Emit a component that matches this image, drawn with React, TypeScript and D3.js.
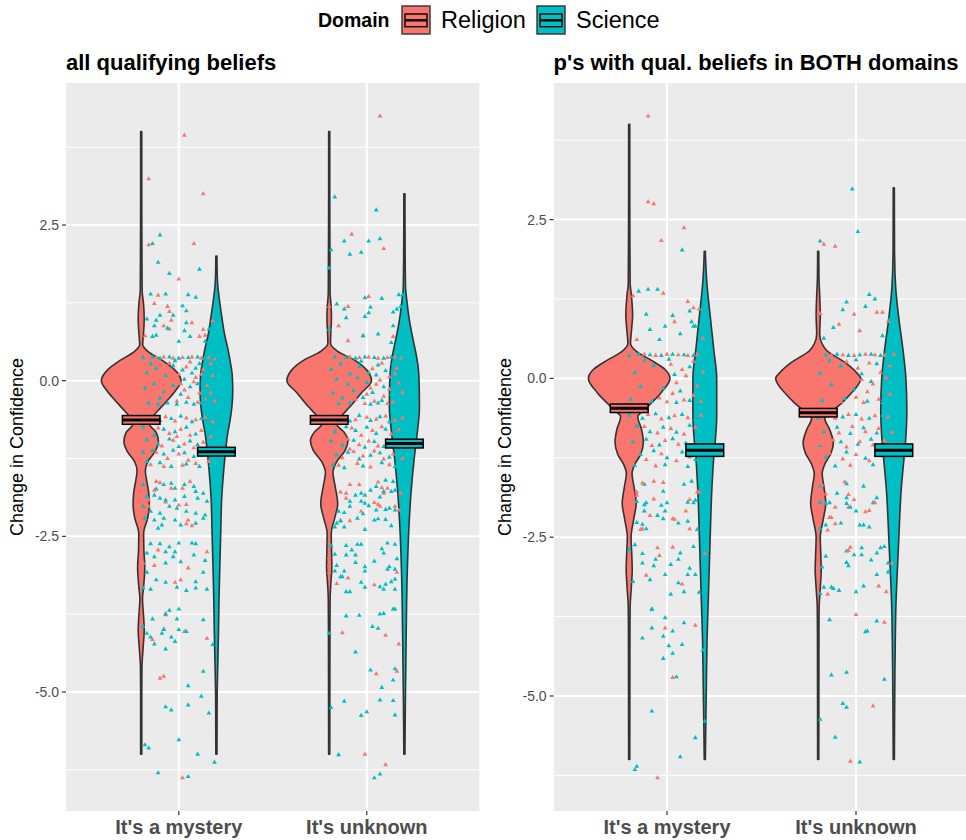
import { useEffect, useRef } from "react"
import * as d3 from "d3"

type Pair = [number, number]

const WIDTH = 966
const HEIGHT = 840
const FONT = "'Liberation Sans', Arial, Helvetica, sans-serif"

const categories = ["It's a mystery", "It's unknown"]
const domainNames = ["Religion", "Science"]
const domainColors = ["#F8766D", "#00BFC4"]
const panelTitles = ["all qualifying beliefs", "p's with qual. beliefs in BOTH domains"]
const yMajorBreaks = [-5, -2.5, 0, 2.5]
const yMinorBreaks = [-6.25, -3.75, -1.25, 1.25, 3.75]

// crossbar: mean and standard error, [category][domain]
const allMeans = [[-0.63, -1.14], [-0.63, -1.01]]
const allSe = [[0.07, 0.07], [0.07, 0.07]]
const bothMeans = [[-0.47, -1.13], [-0.54, -1.13]]
const bothSe = [[0.067, 0.098], [0.067, 0.098]]

// violin outlines: [value, half width in category steps]
const allMysteryRelViolin: Pair[] = [[4.0,0.003],[3.0,0.003],[2.0,0.004],[1.45,0.005],[1.25,0.012],[1.0,0.016],[0.75,0.012],[0.58,0.008],[0.47,0.035],[0.33,0.11],[0.17,0.18],[0.0,0.212],[-0.17,0.18],[-0.33,0.135],[-0.48,0.09],[-0.6,0.055],[-0.7,0.045],[-0.83,0.08],[-0.98,0.092],[-1.13,0.075],[-1.3,0.035],[-1.45,0.022],[-1.62,0.03],[-1.8,0.04],[-2.0,0.043],[-2.2,0.035],[-2.45,0.013],[-2.7,0.014],[-3.0,0.019],[-3.3,0.013],[-3.5,0.007],[-3.8,0.013],[-4.0,0.016],[-4.3,0.01],[-4.6,0.004],[-5.0,0.003],[-6.0,0.003]]
const allMysterySciViolin: Pair[] = [[2.0,0.003],[1.75,0.004],[1.5,0.008],[1.3,0.016],[1.0,0.03],[0.75,0.043],[0.5,0.062],[0.3,0.074],[0.1,0.084],[-0.15,0.087],[-0.4,0.083],[-0.65,0.072],[-0.85,0.06],[-1.1,0.05],[-1.4,0.04],[-1.9,0.028],[-2.45,0.023],[-3.0,0.018],[-3.5,0.014],[-4.05,0.011],[-4.6,0.007],[-5.1,0.004],[-6.0,0.003]]
const allUnknownRelViolin: Pair[] = [[4.0,0.003],[3.0,0.003],[2.0,0.004],[1.4,0.005],[1.2,0.01],[1.0,0.012],[0.8,0.009],[0.6,0.007],[0.47,0.045],[0.33,0.135],[0.17,0.2],[0.0,0.225],[-0.2,0.17],[-0.42,0.11],[-0.55,0.07],[-0.7,0.04],[-0.83,0.08],[-0.96,0.1],[-1.12,0.085],[-1.3,0.04],[-1.48,0.02],[-1.7,0.032],[-1.98,0.045],[-2.2,0.03],[-2.45,0.011],[-2.8,0.013],[-3.0,0.014],[-3.2,0.01],[-3.5,0.005],[-4.0,0.004],[-6.0,0.003]]
const allUnknownSciViolin: Pair[] = [[3.0,0.003],[2.0,0.004],[1.5,0.006],[1.29,0.013],[1.0,0.025],[0.75,0.04],[0.43,0.062],[0.2,0.074],[0.0,0.078],[-0.43,0.08],[-0.85,0.068],[-1.23,0.053],[-1.77,0.036],[-2.3,0.025],[-3.1,0.015],[-4.2,0.009],[-5.2,0.005],[-6.0,0.003]]
const bothMysteryRelViolin: Pair[] = [[4.0,0.003],[3.0,0.003],[2.0,0.004],[1.5,0.005],[1.3,0.012],[1.0,0.018],[0.75,0.012],[0.55,0.007],[0.42,0.04],[0.28,0.12],[0.14,0.19],[0.0,0.216],[-0.22,0.17],[-0.38,0.12],[-0.5,0.08],[-0.6,0.045],[-0.8,0.065],[-1.0,0.075],[-1.2,0.06],[-1.35,0.03],[-1.5,0.015],[-1.7,0.025],[-1.97,0.037],[-2.2,0.025],[-2.5,0.01],[-2.8,0.014],[-3.0,0.016],[-3.3,0.011],[-3.6,0.005],[-4.0,0.004],[-6.0,0.003]]
const bothMysterySciViolin: Pair[] = [[2.0,0.003],[1.75,0.006],[1.5,0.011],[1.0,0.028],[0.44,0.048],[0.0,0.063],[-0.6,0.063],[-1.0,0.055],[-1.3,0.046],[-1.77,0.037],[-2.55,0.028],[-3.34,0.02],[-4.1,0.012],[-4.9,0.008],[-5.5,0.005],[-6.0,0.003]]
const bothUnknownRelViolin: Pair[] = [[2.0,0.003],[1.6,0.004],[1.3,0.008],[1.0,0.011],[0.7,0.008],[0.55,0.02],[0.44,0.045],[0.24,0.147],[0.1,0.2],[0.0,0.225],[-0.25,0.17],[-0.4,0.12],[-0.5,0.08],[-0.63,0.035],[-0.8,0.06],[-1.02,0.08],[-1.18,0.067],[-1.35,0.035],[-1.5,0.021],[-1.7,0.03],[-1.97,0.04],[-2.2,0.028],[-2.5,0.011],[-2.8,0.014],[-3.0,0.016],[-3.3,0.011],[-3.6,0.005],[-4.0,0.004],[-6.0,0.003]]
const bothUnknownSciViolin: Pair[] = [[3.0,0.003],[2.0,0.004],[1.43,0.01],[0.96,0.026],[0.44,0.049],[0.0,0.064],[-0.5,0.069],[-1.0,0.062],[-1.29,0.053],[-1.76,0.039],[-2.55,0.026],[-3.07,0.018],[-3.6,0.011],[-4.1,0.008],[-5.0,0.005],[-6.0,0.003]]

// jittered points: [x offset in category steps, value]
const allMysteryRelPts: Pair[] = [
  [0.03,3.94],[-0.16,3.24],[0.13,3.0],[-0.16,2.18],[0.08,2.2],[0.0,1.63],
  [-0.11,1.37],[-0.13,1.24],[-0.06,1.19],[-0.05,1.11],[-0.04,0.97],[0.07,0.93],[-0.08,0.88],[-0.05,0.83],[0.13,0.82],[0.18,0.96],[-0.18,0.72],[0.11,0.71],[0.14,0.73],
  [-0.17,0.36],[-0.12,0.37],[-0.08,0.38],[-0.03,0.36],[0.02,0.37],[0.07,0.38],[0.12,0.36],[0.16,0.37],[0.19,0.35],
  [-0.18,0.2],[-0.14,0.25],[-0.1,0.15],[-0.05,0.28],[0.0,0.1],[0.04,0.22],[0.09,0.05],[0.13,0.18],[0.17,0.27],
  [-0.16,-0.05],[-0.11,0.02],[-0.06,-0.1],[-0.02,0.05],[0.03,-0.15],[0.08,-0.02],[0.11,-0.2],[0.15,-0.08],[0.18,0.08],
  [-0.19,-0.25],[-0.13,-0.3],[-0.07,-0.22],[-0.01,-0.33],[0.05,-0.27],[0.1,-0.35],[0.14,-0.3],[0.17,-0.2],
  [-0.15,0.3],[-0.04,0.15],[0.06,0.3],[0.12,0.1],[-0.09,-0.35],[0.01,-0.05],[0.19,-0.33],
  [-0.18,-0.6],[-0.13,-0.62],[-0.07,-0.58],[-0.02,-0.65],[0.04,-0.6],[0.09,-0.63],[0.14,-0.59],[0.18,-0.66],
  [-0.16,-0.8],[-0.11,-0.76],[-0.05,-0.85],[0.01,-0.78],[0.06,-0.88],[0.12,-0.8],[0.17,-0.9],
  [-0.19,-1.0],[-0.14,-0.98],[-0.09,-1.05],[-0.03,-0.96],[0.03,-1.02],[0.08,-1.08],[0.13,-0.99],[0.19,-1.1],
  [-0.17,-1.2],[-0.12,-1.15],[-0.06,-1.25],[0.0,-1.18],[0.05,-1.28],[0.11,-1.2],[0.16,-1.3],
  [-0.15,-1.35],[-0.08,-1.38],[0.02,-1.36],[0.09,-1.33],[0.15,-1.15],[-0.01,-0.9],
  [-0.12,-1.62],[-0.1,-1.64],[-0.04,-1.73],[0.02,-1.73],[0.06,-1.62],[-0.18,-1.73],[-0.17,-1.86],[-0.16,-1.92],[-0.13,-1.76],[0.0,-2.0],[0.04,-1.99],[0.05,-2.24],[0.07,-2.33],[0.04,-2.3],[-0.07,-1.95],[-0.16,-2.02],
  [-0.11,-2.72],[-0.13,-2.97],[0.01,-3.2],[-0.02,-3.24],[0.05,-3.01],[-0.19,-2.93],[0.15,-2.75],
  [-0.07,-3.74],[-0.08,-3.99],[0.03,-4.03],[0.15,-4.14],[-0.14,-4.16],[-0.2,-4.0],
  [-0.1,-4.78],[-0.08,-4.75],[0.02,-6.38],
]
const allMysterySciPts: Pair[] = [
  [-0.1,2.34],[-0.14,2.2],[-0.11,1.9],[-0.05,1.72],[0.11,1.79],
  [-0.15,1.39],[-0.07,1.39],[0.05,1.38],[0.09,1.34],[0.02,1.2],[0.04,1.12],[-0.03,1.05],[-0.1,1.05],[-0.17,0.99],[-0.12,0.97],[0.04,0.93],[-0.13,0.88],[-0.06,0.84],[0.03,0.8],[0.16,0.83],[-0.12,0.73],[-0.14,0.71],[0.06,0.71],[0.14,0.63],[0.0,0.63],
  [-0.19,0.37],[-0.14,0.38],[-0.1,0.36],[-0.05,0.38],[0.0,0.36],[0.05,0.37],[0.1,0.38],[0.14,0.37],[0.18,0.38],
  [-0.17,0.12],[-0.12,0.2],[-0.07,0.08],[-0.03,0.24],[0.02,0.17],[0.07,0.12],[0.11,0.27],[0.15,0.04],[0.19,0.2],
  [-0.18,-0.12],[-0.13,-0.05],[-0.08,-0.18],[-0.03,-0.08],[0.01,-0.22],[0.06,-0.1],[0.1,-0.05],[0.14,-0.16],[0.17,-0.28],
  [-0.16,-0.36],[-0.11,-0.38],[-0.06,-0.36],[-0.01,-0.38],[0.04,-0.35],[0.08,-0.38],[0.12,-0.36],[0.16,-0.38],
  [-0.15,0.27],[-0.02,0.32],[0.09,0.2],[-0.1,-0.28],[0.03,0.02],[0.13,-0.3],
  [-0.16,-0.58],[-0.1,-0.64],[-0.04,-0.61],[0.01,-0.57],[0.07,-0.66],[0.12,-0.61],[0.16,-0.56],
  [-0.19,-0.75],[-0.13,-0.88],[-0.08,-0.78],[-0.02,-0.82],[0.04,-0.75],[0.09,-0.86],[0.15,-0.77],[0.19,-0.85],
  [-0.17,-0.95],[-0.11,-1.02],[-0.05,-0.94],[0.0,-1.06],[0.06,-0.97],[0.1,-1.03],[0.16,-0.96],
  [-0.19,-1.15],[-0.14,-1.12],[-0.08,-1.18],[-0.03,-1.12],[0.03,-1.16],[0.08,-1.22],[0.13,-1.12],[0.18,-1.22],
  [-0.17,-1.3],[-0.1,-1.32],[-0.04,-1.38],[0.04,-1.34],[0.11,-1.38],[0.17,-1.36],
  [-0.19,-1.67],[-0.12,-1.74],[-0.08,-1.67],[-0.04,-1.65],[-0.02,-1.73],[0.03,-1.67],[0.08,-1.7],[0.09,-1.78],[0.13,-1.81],[-0.17,-1.86],[-0.13,-1.84],[-0.1,-1.89],[-0.07,-1.92],[-0.02,-1.92],[0.03,-1.86],[0.1,-1.89],[0.15,-1.94],
  [-0.19,-2.02],[-0.15,-2.1],[-0.1,-2.13],[-0.05,-2.02],[-0.01,-2.05],[0.04,-2.1],[0.09,-2.13],[0.14,-2.16],[-0.18,-2.21],[-0.13,-2.24],[-0.08,-2.21],[-0.02,-2.24],[0.01,-2.32],[0.09,-2.29],[0.13,-2.21],[-0.11,-2.37],[-0.09,-2.32],
  [-0.15,-2.62],[-0.1,-2.62],[-0.05,-2.67],[0.0,-2.61],[0.07,-2.61],[0.09,-2.62],[-0.17,-2.77],[-0.07,-2.75],[-0.02,-2.75],[-0.13,-2.83],[-0.07,-2.93],[-0.03,-2.83],[0.01,-2.91],[0.08,-2.8],[0.14,-2.89],
  [-0.17,-3.08],[-0.12,-3.2],[-0.07,-3.24],[-0.01,-3.32],[0.04,-3.37],[0.09,-3.33],[0.09,-3.23],[0.15,-3.35],[0.13,-3.08],[-0.19,-3.33],[-0.15,-3.35],
  [-0.05,-3.69],[0.0,-3.67],[-0.14,-3.83],[-0.07,-3.76],[-0.01,-3.83],[0.13,-3.84],[0.0,-4.0],[-0.08,-4.0],[-0.09,-4.06],[-0.04,-4.12],[-0.02,-4.19],[0.04,-4.03],[-0.17,-4.06],[-0.15,-4.12],[-0.13,-4.23],[-0.07,-4.31],[0.18,-4.24],[-0.19,-3.95],
  [0.05,-4.9],[0.12,-5.07],[-0.07,-5.24],[-0.04,-5.29],[0.05,-5.21],[0.16,-5.34],[0.13,-4.67],
  [0.0,-5.77],[-0.18,-5.85],[-0.16,-5.9],[0.1,-6.0],[0.19,-6.13],[-0.11,-6.3],[0.05,-6.36],
]
const allUnknownRelPts: Pair[] = [
  [0.07,4.25],[-0.08,2.35],[0.09,2.12],[-0.1,1.19],[0.01,1.35],[-0.2,1.19],[-0.15,0.88],[-0.1,0.64],[-0.02,0.72],[0.14,0.71],
  [-0.19,0.37],[-0.14,0.36],[-0.09,0.38],[-0.04,0.37],[0.01,0.38],[0.06,0.36],[0.11,0.37],[0.15,0.38],[0.18,0.36],
  [-0.17,0.22],[-0.12,0.14],[-0.07,0.26],[-0.02,0.08],[0.03,0.19],[0.08,0.28],[0.12,0.06],[0.16,0.2],
  [-0.18,-0.02],[-0.13,0.04],[-0.08,-0.09],[-0.03,-0.01],[0.02,-0.12],[0.07,0.01],[0.12,-0.14],[0.17,-0.04],
  [-0.16,-0.24],[-0.11,-0.18],[-0.06,-0.3],[0.0,-0.22],[0.04,-0.33],[0.09,-0.25],[0.14,-0.34],[0.19,-0.19],
  [-0.19,-0.36],[-0.12,-0.38],[-0.01,-0.37],[0.11,-0.37],[-0.05,0.16],[0.05,-0.06],[0.15,0.11],
  [-0.17,-0.57],[-0.12,-0.6],[-0.06,-0.63],[0.0,-0.59],[0.05,-0.62],[0.1,-0.57],[0.15,-0.64],[0.19,-0.6],
  [-0.19,-0.78],[-0.14,-0.84],[-0.08,-0.76],[-0.03,-0.88],[0.03,-0.8],[0.08,-0.74],[0.13,-0.86],[0.17,-0.79],
  [-0.16,-0.99],[-0.1,-0.94],[-0.04,-1.03],[0.01,-0.97],[0.06,-1.05],[0.11,-0.95],[0.16,-1.02],
  [-0.18,-1.17],[-0.13,-1.24],[-0.07,-1.14],[-0.02,-1.21],[0.04,-1.13],[0.09,-1.26],[0.14,-1.18],[0.19,-1.25],
  [-0.15,-1.36],[-0.05,-1.33],[0.02,-1.39],[0.12,-1.35],[-0.09,-1.1],
  [-0.09,-1.67],[-0.04,-1.67],[0.06,-1.63],[0.08,-1.72],[-0.14,-1.79],[-0.11,-1.81],[-0.11,-1.89],[0.04,-1.96],[0.06,-1.99],[0.07,-2.02],[0.15,-2.02],[0.17,-2.08],[-0.14,-2.25],[-0.09,-2.25],[-0.03,-2.1],[0.09,-1.81],[0.18,-1.81],[0.11,-1.73],
  [-0.2,-2.84],[-0.2,-2.96],[-0.2,-3.08],[-0.16,-3.26],[-0.1,-3.17],[0.04,-3.28],[0.16,-3.08],
  [-0.13,-4.05],[0.1,-4.09],[0.17,-4.23],
  [0.05,-4.71],[0.16,-4.67],
  [-0.01,-6.0],[0.1,-6.17],
]
const allUnknownSciPts: Pair[] = [
  [-0.17,2.95],[0.05,2.74],[-0.12,2.24],[0.01,2.24],[0.07,2.28],[-0.09,2.03],[-0.03,2.06],[-0.19,2.1],[-0.2,1.81],
  [-0.16,1.23],[-0.12,1.15],[-0.11,1.01],[-0.01,1.33],[0.08,1.32],[0.02,1.18],[0.01,1.09],[-0.01,1.03],[-0.2,0.83],[-0.02,0.72],[0.06,0.75],[0.14,0.88],[0.13,0.61],[0.14,1.1],[0.16,1.15],[0.18,1.19],[0.17,1.38],[0.19,1.38],[0.19,1.01],
  [-0.17,0.38],[-0.11,0.37],[-0.06,0.36],[-0.01,0.38],[0.04,0.37],[0.09,0.36],[0.13,0.38],[0.17,0.37],
  [-0.19,0.18],[-0.14,0.27],[-0.09,0.11],[-0.04,0.23],[0.01,0.13],[0.06,0.25],[0.1,0.16],[0.14,0.27],[0.19,0.09],
  [-0.16,0.02],[-0.1,-0.06],[-0.05,0.05],[0.0,-0.03],[0.05,0.09],[0.09,-0.1],[0.15,0.0],[0.18,-0.11],
  [-0.18,-0.2],[-0.13,-0.28],[-0.07,-0.16],[-0.02,-0.27],[0.03,-0.19],[0.08,-0.32],[0.13,-0.22],[0.17,-0.3],
  [-0.15,-0.37],[-0.09,-0.36],[0.02,-0.38],[0.06,-0.36],[0.16,-0.38],[-0.03,0.31],
  [-0.19,-0.62],[-0.14,-0.58],[-0.09,-0.65],[-0.04,-0.56],[0.02,-0.64],[0.07,-0.58],[0.12,-0.66],[0.17,-0.57],
  [-0.17,-0.82],[-0.11,-0.74],[-0.06,-0.8],[0.0,-0.75],[0.05,-0.85],[0.1,-0.78],[0.15,-0.83],[0.19,-0.76],
  [-0.19,-0.97],[-0.13,-1.04],[-0.07,-0.96],[-0.01,-1.07],[0.04,-0.98],[0.09,-1.06],[0.14,-0.99],[0.18,-1.08],
  [-0.16,-1.19],[-0.1,-1.15],[-0.04,-1.26],[0.02,-1.2],[0.07,-1.16],[0.12,-1.23],[0.17,-1.14],
  [-0.18,-1.35],[-0.12,-1.4],[-0.02,-1.37],[0.08,-1.32],[0.15,-1.38],
  [0.1,-1.6],[0.14,-1.62],[0.05,-1.7],[0.02,-1.76],[-0.03,-1.81],[-0.06,-1.84],[-0.01,-1.84],[0.09,-1.78],[0.13,-1.78],[0.15,-1.76],[0.07,-1.87],[-0.09,-1.94],[-0.03,-1.94],[-0.01,-1.97],[0.01,-2.01],[0.05,-2.08],[0.1,-2.07],
  [0.12,-2.05],[0.15,-2.08],[-0.15,-2.1],[-0.12,-2.12],[-0.05,-2.21],[-0.02,-2.14],[0.04,-2.24],[0.06,-2.22],[0.1,-2.23],[0.13,-2.33],[-0.16,-2.29],[-0.12,-2.35],[-0.17,-2.35],[-0.01,-2.39],[-0.09,-2.02],[-0.14,-2.25],
  [-0.19,-2.65],[-0.11,-2.65],[-0.05,-2.63],[-0.03,-2.63],[0.11,-2.61],[0.15,-2.63],[0.08,-2.7],[0.09,-2.77],[-0.17,-2.79],[-0.11,-2.8],[-0.06,-2.8],[-0.08,-2.72],[0.04,-2.9],[-0.16,-2.97],[-0.17,-3.06],[-0.12,-3.06],[-0.06,-2.92],
  [-0.01,-2.99],[-0.01,-3.06],[0.12,-2.99],[0.11,-3.03],[0.15,-3.03],[0.16,-2.86],[0.15,-3.19],[0.13,-3.23],[0.1,-3.27],[0.07,-3.31],[0.09,-3.35],[-0.03,-3.24],[-0.01,-3.32],[0.15,-3.35],[-0.11,-3.39],[-0.09,-3.39],[-0.13,-3.15],[-0.14,-3.15],
  [-0.11,-3.78],[-0.04,-3.77],[0.07,-3.75],[0.09,-3.74],[0.14,-3.67],[0.15,-3.67],[0.03,-3.95],[0.06,-3.98],[-0.2,-4.06],[-0.06,-4.36],
  [0.02,-4.65],[0.15,-4.63],[0.14,-4.81],[0.08,-4.93],[-0.12,-5.15],[-0.19,-5.25],[0.07,-5.13],[0.14,-5.14],[-0.03,-5.38],[0.0,-5.32],[0.15,-5.37],
  [-0.15,-6.01],[0.07,-6.32],[0.04,-6.38],
]
const bothMysteryRelPts: Pair[] = [
  [-0.1,4.13],[-0.1,2.78],[-0.07,2.75],[0.09,2.37],[-0.03,2.17],[-0.02,1.34],[-0.18,1.3],[0.11,1.21],[0.14,1.11],[0.17,1.09],[0.04,0.89],[-0.16,0.61],[0.19,0.63],
  [-0.18,0.37],[-0.12,0.38],[-0.06,0.36],[0.0,0.38],[0.06,0.37],[0.11,0.36],[0.16,0.38],
  [-0.16,0.17],[-0.1,0.25],[-0.04,0.12],[0.02,0.22],[0.08,0.14],[0.14,0.27],[0.19,0.1],
  [-0.19,-0.04],[-0.13,0.03],[-0.07,-0.1],[-0.01,0.0],[0.05,-0.07],[0.1,0.04],[0.16,-0.12],
  [-0.17,-0.26],[-0.11,-0.2],[-0.04,-0.31],[0.03,-0.24],[0.09,-0.34],[0.14,-0.27],
  [-0.14,-0.38],[0.0,-0.37],[0.18,-0.36],
  [-0.17,-0.6],[-0.1,-0.57],[-0.03,-0.64],[0.04,-0.59],[0.11,-0.62],[0.18,-0.58],
  [-0.19,-0.82],[-0.12,-0.76],[-0.05,-0.86],[0.02,-0.79],[0.09,-0.88],[0.15,-0.77],
  [-0.15,-1.01],[-0.08,-1.06],[-0.01,-0.98],[0.06,-1.04],[0.13,-1.1],
  [-0.18,-1.22],[-0.11,-1.28],[-0.03,-1.19],[0.05,-1.3],[0.12,-1.24],[0.19,-1.17],[-0.06,-1.38],
  [-0.13,-1.65],[-0.07,-1.62],[-0.02,-1.64],[0.16,-1.79],[0.17,-1.79],[-0.16,-1.79],[-0.16,-1.84],[-0.07,-1.9],[0.1,-2.09],[-0.09,-2.16],[0.12,-1.91],[0.03,-2.21],[0.04,-2.22],[0.12,-2.37],[-0.13,-2.37],[-0.14,-2.38],
  [-0.05,-2.67],[0.03,-2.66],[-0.04,-2.79],[-0.11,-3.1],[0.08,-3.24],[0.2,-2.76],
  [-0.01,-3.93],[0.15,-3.89],
  [0.03,-4.71],[-0.05,-6.29],
]
const bothMysterySciPts: Pair[] = [
  [0.08,2.02],[-0.15,1.37],[-0.1,1.4],[-0.05,1.4],[0.12,1.06],[0.2,1.06],[-0.11,1.01],[0.03,0.99],[0.13,0.89],[0.14,0.82],[0.15,0.82],[-0.09,0.77],[-0.01,0.82],[0.07,0.7],[-0.04,0.61],
  [-0.2,0.36],[-0.15,0.38],[-0.09,0.37],[-0.03,0.36],[0.03,0.38],[0.09,0.37],[0.14,0.36],[0.19,0.38],
  [-0.17,0.09],[-0.07,0.2],[0.04,0.06],[0.12,0.18],
  [-0.14,-0.13],[-0.02,-0.16],[0.07,-0.2],[0.17,-0.08],
  [-0.19,-0.33],[-0.08,-0.36],[0.05,-0.38],[0.12,-0.35],[-0.12,0.28],[0.01,0.3],
  [-0.2,-0.58],[-0.13,-0.63],[-0.06,-0.56],[0.01,-0.62],[0.08,-0.57],[0.15,-0.65],
  [-0.16,-0.75],[-0.09,-0.84],[-0.02,-0.77],[0.05,-0.85],[0.12,-0.74],[0.18,-0.87],
  [-0.18,-1.0],[-0.11,-0.96],[-0.04,-1.05],[0.03,-0.95],[0.1,-1.02],[0.16,-0.97],
  [-0.14,-1.2],[-0.07,-1.14],[0.0,-1.25],[0.08,-1.16],[0.15,-1.28],
  [-0.17,-1.37],[-0.01,-1.36],[0.11,-1.39],
  [-0.12,-1.67],[0.09,-1.67],[0.13,-1.62],[-0.16,-1.94],[-0.11,-1.96],[-0.12,-1.99],[0.0,-1.96],[-0.02,-1.78],[0.11,-1.95],[0.14,-1.96],[0.15,-1.92],
  [-0.12,-2.09],[-0.05,-2.16],[-0.01,-2.09],[-0.02,-2.21],[0.06,-2.28],[0.11,-2.25],[-0.16,-2.27],[-0.13,-2.3],[-0.11,-2.37],[0.16,-2.38],[-0.03,-2.0],
  [-0.17,-2.62],[-0.2,-2.7],[-0.13,-2.76],[-0.06,-2.85],[0.06,-2.85],[0.07,-2.75],[-0.13,-2.91],[-0.07,-2.95],[0.02,-2.93],[0.12,-2.99],
  [0.11,-3.09],[0.15,-3.09],[-0.01,-3.09],[-0.09,-3.17],[-0.18,-3.2],[0.06,-3.22],[0.09,-3.36],[0.02,-3.4],[0.17,-3.37],[0.14,-2.65],
  [-0.08,-3.63],[-0.08,-3.64],[-0.01,-3.77],[0.09,-3.85],[-0.08,-3.93],[-0.13,-4.09],[-0.02,-4.06],[0.03,-3.98],[0.01,-4.21],[0.08,-4.19],[0.03,-4.33],[-0.02,-4.41],[0.19,-4.28],
  [0.05,-4.7],[-0.08,-5.24],[0.2,-5.4],[0.15,-5.66],
  [0.07,-5.96],[-0.17,-6.16],[-0.16,-6.11],
]
const bothUnknownRelPts: Pair[] = [
  [-0.17,2.11],[-0.11,2.08],[-0.01,1.01],[0.11,1.04],[0.14,1.04],[0.17,0.9],[-0.19,1.02],[0.02,0.75],[-0.09,0.85],
  [-0.19,0.38],[-0.13,0.36],[-0.07,0.37],[-0.01,0.36],[0.05,0.38],[0.1,0.37],[0.15,0.36],[0.2,0.38],
  [-0.17,0.21],[-0.11,0.13],[-0.05,0.26],[0.01,0.16],[0.07,0.24],[0.13,0.09],[0.18,0.2],
  [-0.15,-0.05],[-0.09,0.02],[-0.03,-0.11],[0.03,-0.02],[0.09,-0.09],[0.16,0.01],
  [-0.18,-0.22],[-0.12,-0.29],[-0.06,-0.18],[0.0,-0.3],[0.06,-0.21],[0.12,-0.33],[0.18,-0.25],
  [-0.08,-0.37],[0.04,-0.38],
  [-0.18,-0.58],[-0.11,-0.63],[-0.04,-0.57],[0.03,-0.64],[0.1,-0.59],[0.17,-0.61],
  [-0.16,-0.78],[-0.09,-0.86],[-0.02,-0.76],[0.05,-0.84],[0.12,-0.79],[0.19,-0.85],
  [-0.19,-1.03],[-0.12,-0.97],[-0.05,-1.08],[0.02,-1.0],[0.09,-1.05],[0.15,-0.98],
  [-0.14,-1.18],[-0.07,-1.27],[0.0,-1.2],[0.07,-1.3],[0.14,-1.22],[-0.03,-1.37],
  [-0.06,-1.63],[-0.04,-1.83],[-0.01,-1.91],[-0.11,-2.03],[0.05,-2.1],[0.07,-2.08],[0.1,-1.96],[-0.14,-2.19],[-0.13,-2.19],[-0.11,-2.29],[-0.15,-2.39],[-0.04,-2.03],[-0.18,-1.68],[-0.16,-1.82],
  [-0.03,-2.66],[-0.04,-2.71],[0.12,-3.27],[-0.15,-3.4],[0.16,-3.36],[0.19,-2.91],
  [0.0,-3.72],[0.15,-3.84],
  [0.09,-5.16],[-0.03,-6.03],
]
const bothUnknownSciPts: Pair[] = [
  [-0.02,2.98],[0.01,2.31],[-0.19,2.16],[0.07,1.32],[-0.05,1.2],[-0.07,1.08],[0.05,1.13],[0.18,0.93],[-0.17,0.63],[0.14,0.67],[0.1,1.25],[-0.12,0.8],
  [-0.16,0.37],[-0.1,0.38],[-0.04,0.36],[0.02,0.37],[0.08,0.38],[0.13,0.36],[0.17,0.37],
  [-0.19,0.08],[-0.08,0.19],[0.03,0.07],[0.11,0.23],[0.19,0.12],
  [-0.13,-0.1],[-0.01,-0.17],[0.08,-0.05],[0.15,-0.19],
  [-0.18,-0.35],[-0.06,-0.32],[0.06,-0.36],[0.14,-0.38],[-0.14,0.28],[0.0,0.29],
  [-0.2,-0.62],[-0.14,-0.56],[-0.07,-0.61],[0.0,-0.57],[0.07,-0.63],[0.14,-0.58],[0.19,-0.64],
  [-0.17,-0.84],[-0.1,-0.77],[-0.03,-0.87],[0.04,-0.78],[0.11,-0.86],[0.17,-0.75],
  [-0.19,-1.06],[-0.08,-1.0],[0.01,-1.04],[0.08,-0.96],[0.16,-1.07],
  [-0.16,-1.24],[-0.05,-1.16],[0.05,-1.26],[0.12,-1.14],[-0.11,-1.38],[0.09,-1.36],
  [-0.19,-1.7],[-0.05,-1.66],[0.04,-1.7],[-0.1,-1.81],[-0.05,-1.88],[-0.19,-1.95],[-0.14,-1.96],[-0.16,-1.97],[0.0,-2.09],[0.09,-1.96],[0.11,-1.88],
  [-0.16,-2.31],[-0.08,-2.28],[0.02,-2.31],[0.04,-2.31],[0.07,-2.34],[-0.19,-2.37],[-0.05,-1.97],[-0.03,-2.03],
  [-0.05,-2.72],[-0.01,-2.78],[0.03,-2.67],[0.03,-2.78],[-0.05,-2.9],[-0.04,-2.95],[0.08,-2.86],[0.11,-3.09],[0.11,-2.75],[0.13,-2.67],[0.15,-2.65],
  [-0.16,-2.8],[-0.18,-2.97],[0.04,-3.27],[0.0,-3.36],[-0.17,-3.29],[-0.13,-3.29],[-0.12,-3.31],[-0.09,-3.34],[-0.19,-3.39],[0.17,-2.91],[0.17,-3.05],
  [-0.14,-3.8],[0.11,-3.82],[0.05,-3.99],[0.06,-3.98],
  [-0.13,-4.67],[-0.05,-4.63],[0.15,-4.74],[-0.07,-5.12],[-0.05,-5.18],[-0.19,-5.37],[-0.11,-5.65],
  [0.02,-6.04],
]

const panels = [
  {
    title: panelTitles[0],
    means: allMeans,
    se: allSe,
    violins: [[allMysteryRelViolin, allMysterySciViolin], [allUnknownRelViolin, allUnknownSciViolin]],
    points: [[allMysteryRelPts, allMysterySciPts], [allUnknownRelPts, allUnknownSciPts]],
  },
  {
    title: panelTitles[1],
    means: bothMeans,
    se: bothSe,
    violins: [[bothMysteryRelViolin, bothMysterySciViolin], [bothUnknownRelViolin, bothUnknownSciViolin]],
    points: [[bothMysteryRelPts, bothMysterySciPts], [bothUnknownRelPts, bothUnknownSciPts]],
  },
]

// layout
const panelBoxes = [
  { left: 66, right: 479.6 },
  { left: 553.6, right: 969.4 },
]
const panelTop = 83
const panelBottom = 811
const dodge = 0.2 // violins sit this many category steps either side of the tick
const barHalf = 0.1 // crossbar half width

export default function App() {
  const svgRef = useRef<SVGSVGElement>(null)

  useEffect(() => {
    if (!svgRef.current) return
    const svg = d3.select(svgRef.current)
    svg.selectAll("*").remove()
    const defs = svg.append("defs")

    svg.append("rect").attr("width", WIDTH).attr("height", HEIGHT).attr("fill", "white")

    panels.forEach((panel, pi) => {
      const { left, right } = panelBoxes[pi]
      const x = d3.scalePoint<string>().domain(categories).range([left, right]).padding(0.6)
      const step = x.step()

      const values = panel.points.flat().flat().map((d) => d[1])
      const [lo, hi] = d3.extent(values) as [number, number]
      const pad = (hi - lo) * 0.05
      const y = d3.scaleLinear().domain([lo - pad, hi + pad]).range([panelBottom, panelTop])
      const [dMin, dMax] = y.domain()

      defs
        .append("clipPath")
        .attr("id", `panel-clip-${pi}`)
        .append("rect")
        .attr("x", left)
        .attr("y", panelTop)
        .attr("width", right - left)
        .attr("height", panelBottom - panelTop)

      const g = svg.append("g").attr("clip-path", `url(#panel-clip-${pi})`)

      g.append("rect")
        .attr("x", left)
        .attr("y", panelTop)
        .attr("width", right - left)
        .attr("height", panelBottom - panelTop)
        .attr("fill", "#EBEBEB")

      // grid
      g.selectAll(".minor")
        .data(yMinorBreaks.filter((v) => v > dMin && v < dMax))
        .join("line")
        .attr("x1", left)
        .attr("x2", right)
        .attr("y1", (d) => y(d))
        .attr("y2", (d) => y(d))
        .attr("stroke", "white")
        .attr("stroke-width", 1)

      g.selectAll(".major")
        .data(yMajorBreaks)
        .join("line")
        .attr("x1", left)
        .attr("x2", right)
        .attr("y1", (d) => y(d))
        .attr("y2", (d) => y(d))
        .attr("stroke", "white")
        .attr("stroke-width", 2)

      g.selectAll(".vgrid")
        .data(categories)
        .join("line")
        .attr("x1", (d) => x(d)!)
        .attr("x2", (d) => x(d)!)
        .attr("y1", panelTop)
        .attr("y2", panelBottom)
        .attr("stroke", "white")
        .attr("stroke-width", 2)

      // violins
      categories.forEach((cat, ci) => {
        panel.violins[ci].forEach((profile, di) => {
          const cx = x(cat)! + (di === 0 ? -dodge : dodge) * step
          const area = d3
            .area<Pair>()
            .y((d) => y(d[0]))
            .x0((d) => cx - d[1] * step)
            .x1((d) => cx + d[1] * step)
            .curve(d3.curveMonotoneY)
          g.append("path")
            .attr("d", area(profile))
            .attr("fill", domainColors[di])
            .attr("stroke", "#333333")
            .attr("stroke-width", 1.6)
            .attr("stroke-linejoin", "round")
        })
      })

      // jittered points
      const tri = d3.symbol(d3.symbolTriangle, 10)()
      categories.forEach((cat, ci) => {
        const [rel, sci] = panel.points[ci]
        const merged: { p: Pair; di: number }[] = []
        for (let i = 0; i < Math.max(rel.length, sci.length); i++) {
          if (i < rel.length) merged.push({ p: rel[i], di: 0 })
          if (i < sci.length) merged.push({ p: sci[i], di: 1 })
        }
        g.append("g")
          .selectAll("path")
          .data(merged)
          .join("path")
          .attr("d", tri)
          .attr("transform", (d) => `translate(${x(cat)! + d.p[0] * step},${y(d.p[1])})`)
          .attr("fill", (d) => domainColors[d.di])
      })

      // crossbars (mean +/- se)
      categories.forEach((cat, ci) => {
        domainNames.forEach((_, di) => {
          const cx = x(cat)! + (di === 0 ? -dodge : dodge) * step
          const m = panel.means[ci][di]
          const s = panel.se[ci][di]
          g.append("rect")
            .attr("x", cx - barHalf * step)
            .attr("width", 2 * barHalf * step)
            .attr("y", y(m + s))
            .attr("height", y(m - s) - y(m + s))
            .attr("fill", domainColors[di])
            .attr("stroke", "black")
            .attr("stroke-width", 1.5)
          g.append("line")
            .attr("x1", cx - barHalf * step)
            .attr("x2", cx + barHalf * step)
            .attr("y1", y(m))
            .attr("y2", y(m))
            .attr("stroke", "black")
            .attr("stroke-width", 3)
        })
      })

      // y axis
      const ya = svg.append("g")
      ya.selectAll("line")
        .data(yMajorBreaks)
        .join("line")
        .attr("x1", left - 4)
        .attr("x2", left)
        .attr("y1", (d) => y(d))
        .attr("y2", (d) => y(d))
        .attr("stroke", "#333333")
        .attr("stroke-width", 1.2)
      ya.selectAll("text")
        .data(yMajorBreaks)
        .join("text")
        .attr("x", left - 7)
        .attr("y", (d) => y(d))
        .attr("dy", "0.35em")
        .attr("text-anchor", "end")
        .attr("font-family", FONT)
        .attr("font-size", 14)
        .attr("fill", "#4D4D4D")
        .text((d) => d.toFixed(1))

      // x axis
      const xa = svg.append("g")
      xa.selectAll("line")
        .data(categories)
        .join("line")
        .attr("x1", (d) => x(d)!)
        .attr("x2", (d) => x(d)!)
        .attr("y1", panelBottom)
        .attr("y2", panelBottom + 4)
        .attr("stroke", "#333333")
        .attr("stroke-width", 1.2)
      xa.selectAll("text")
        .data(categories)
        .join("text")
        .attr("x", (d) => x(d)!)
        .attr("y", panelBottom + 23)
        .attr("text-anchor", "middle")
        .attr("font-family", FONT)
        .attr("font-weight", "bold")
        .attr("font-size", 20)
        .attr("fill", "#4D4D4D")
        .text((d) => d)

      // axis title
      svg.append("text")
        .attr("transform", `translate(${left - 43},${(panelTop + panelBottom) / 2}) rotate(-90)`)
        .attr("text-anchor", "middle")
        .attr("font-family", FONT)
        .attr("font-size", 18)
        .attr("fill", "black")
        .text("Change in Confidence")

      // panel title
      svg.append("text")
        .attr("x", left)
        .attr("y", 70)
        .attr("font-family", FONT)
        .attr("font-weight", "bold")
        .attr("font-size", 22)
        .attr("fill", "black")
        .text(panel.title)
    })

    // legend
    const legend = svg.append("g")
    legend.append("text")
      .attr("x", 318)
      .attr("y", 27)
      .attr("font-family", FONT)
      .attr("font-weight", "bold")
      .attr("font-size", 19.5)
      .attr("fill", "black")
      .text("Domain")
    const keyX = [402, 537]
    domainNames.forEach((name, di) => {
      const kx = keyX[di]
      legend.append("rect")
        .attr("x", kx)
        .attr("y", 6)
        .attr("width", 28)
        .attr("height", 28)
        .attr("fill", domainColors[di])
        .attr("stroke", "#333333")
        .attr("stroke-width", 1.4)
      legend.append("rect")
        .attr("x", kx + 3)
        .attr("y", 14)
        .attr("width", 22)
        .attr("height", 12.7)
        .attr("fill", "none")
        .attr("stroke", "black")
        .attr("stroke-width", 1.4)
      legend.append("line")
        .attr("x1", kx + 3)
        .attr("x2", kx + 25)
        .attr("y1", 20.3)
        .attr("y2", 20.3)
        .attr("stroke", "black")
        .attr("stroke-width", 2.4)
      legend.append("text")
        .attr("x", kx + 39)
        .attr("y", 28)
        .attr("font-family", FONT)
        .attr("font-size", 23.5)
        .attr("fill", "black")
        .text(name)
    })
  }, [])

  return (
    <svg
      ref={svgRef}
      width={WIDTH}
      height={HEIGHT}
      style={{ position: "absolute", left: 0, top: 0, display: "block" }}
    />
  )
}
